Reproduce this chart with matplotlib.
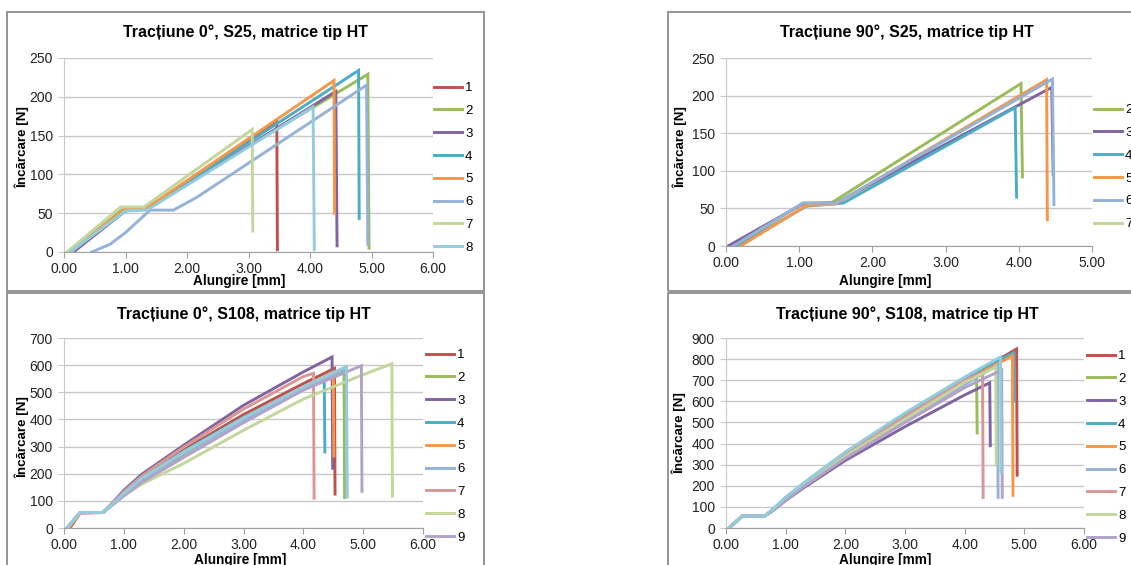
import matplotlib
matplotlib.use("Agg")
import matplotlib.pyplot as plt
from matplotlib.patches import Rectangle

plt.rcParams['font.family'] = ['Liberation Sans', 'DejaVu Sans']

W, H = 1131, 565

# ---- Tractiune 0, S25 ----
s25_0_labels = ['1', '2', '3', '4', '5', '6', '7', '8']
s25_0_x = [
    [0.15, 1.00, 1.35, 3.46, 3.47],
    [0.10, 0.97, 1.35, 4.94, 4.96],
    [0.15, 1.00, 1.35, 4.42, 4.44],
    [0.12, 1.00, 1.35, 4.79, 4.80],
    [0.10, 1.00, 1.35, 4.39, 4.40],
    [0.45, 0.75, 1.00, 1.40, 1.78, 2.15, 4.92, 4.94],
    [0.05, 0.92, 1.30, 3.06, 3.07],
    [0.10, 1.00, 1.35, 4.05, 4.07],
]
s25_0_y = [
    [0, 54, 56, 168, 3],
    [0, 56, 57, 229, 5],
    [0, 53, 55, 207, 8],
    [0, 55, 56, 234, 43],
    [0, 56, 57, 221, 50],
    [0, 10, 25, 54, 54, 70, 215, 10],
    [0, 58, 58, 158, 27],
    [0, 53, 54, 187, 3],
]

# ---- Tractiune 90, S25 ----
s25_90_labels = ['2', '3', '4', '5', '6', '7']
s25_90_x = [
    [0.12, 1.05, 1.45, 4.03, 4.05],
    [0.03, 1.05, 1.50, 4.45, 4.47],
    [0.15, 1.10, 1.60, 3.95, 3.97],
    [0.20, 1.10, 1.50, 4.38, 4.39],
    [0.10, 1.05, 1.50, 4.46, 4.48],
    [],
]
s25_90_y = [
    [0, 57, 58, 216, 92],
    [0, 56, 57, 211, 95],
    [0, 53, 57, 184, 65],
    [0, 54, 56, 221, 35],
    [0, 57, 57, 222, 55],
    [],
]

# ---- Tractiune 0, S108 ----
s108_0_labels = ['1', '2', '3', '4', '5', '6', '7', '8', '9', None]
s108_0_x = [
    [0.10, 0.27, 0.65, 0.8, 1.0, 1.3, 2.0, 3.0, 4.0, 4.52, 4.53],
    [0.05, 0.27, 0.65, 0.8, 1.0, 1.3, 2.0, 3.0, 4.0, 4.68, 4.69],
    [0.05, 0.27, 0.65, 0.8, 1.0, 1.3, 2.0, 3.0, 4.0, 4.48, 4.49],
    [0.05, 0.27, 0.65, 0.8, 1.0, 1.3, 2.0, 3.0, 4.0, 4.35, 4.36],
    [0.08, 0.27, 0.65, 0.8, 1.0, 1.3, 2.0, 3.0, 4.0, 4.50, 4.51],
    [0.05, 0.27, 0.65, 0.8, 1.0, 1.3, 2.0, 3.0, 4.0, 4.72, 4.73],
    [0.05, 0.27, 0.65, 0.8, 1.0, 1.3, 2.0, 3.0, 4.0, 4.17, 4.18],
    [0.05, 0.27, 0.65, 0.8, 1.0, 1.3, 2.0, 3.0, 4.0, 5.0, 5.48, 5.49],
    [0.05, 0.27, 0.65, 0.8, 1.0, 1.3, 2.0, 3.0, 4.0, 4.97, 4.98],
    [0.05, 0.27, 0.65, 0.8, 1.0, 1.3, 2.0, 3.0, 4.0, 4.72, 4.73],
]
s108_0_y = [
    [0, 55, 57, 86, 130, 185, 288, 418, 532, 588, 125],
    [0, 57, 57, 84, 120, 172, 272, 400, 512, 580, 112],
    [0, 57, 57, 90, 139, 198, 305, 452, 575, 630, 220],
    [0, 57, 57, 86, 126, 180, 282, 408, 515, 545, 280],
    [0, 56, 57, 84, 123, 176, 278, 405, 520, 575, 265],
    [0, 57, 57, 85, 123, 176, 275, 398, 510, 590, 115],
    [0, 57, 57, 88, 134, 192, 298, 438, 558, 570, 110],
    [0, 57, 57, 84, 118, 162, 238, 360, 475, 565, 605, 118],
    [0, 57, 57, 83, 119, 168, 260, 388, 508, 598, 135],
    [0, 57, 57, 86, 128, 183, 280, 405, 520, 595, 115],
]

# ---- Tractiune 90, S108 ----
s108_90_labels = ['1', '2', '3', '4', '5', '6', '7', '8', '9', None]
s108_90_x = [
    [0.05, 0.27, 0.65, 0.8, 1.0, 1.3, 2.0, 3.0, 4.0, 4.87, 4.88],
    [0.05, 0.27, 0.65, 0.8, 1.0, 1.3, 2.0, 3.0, 4.0, 4.20, 4.21],
    [0.05, 0.27, 0.65, 0.8, 1.0, 1.3, 2.0, 3.0, 4.0, 4.42, 4.43],
    [0.05, 0.27, 0.65, 0.8, 1.0, 1.3, 2.0, 3.0, 4.0, 4.82, 4.83],
    [0.05, 0.27, 0.65, 0.8, 1.0, 1.3, 2.0, 3.0, 4.0, 4.80, 4.81],
    [0.05, 0.27, 0.65, 0.8, 1.0, 1.3, 2.0, 3.0, 4.0, 4.55, 4.56],
    [0.05, 0.27, 0.65, 0.8, 1.0, 1.3, 2.0, 3.0, 4.0, 4.30, 4.31],
    [0.05, 0.27, 0.65, 0.8, 1.0, 1.3, 2.0, 3.0, 4.0, 4.52, 4.53],
    [0.05, 0.27, 0.65, 0.8, 1.0, 1.3, 2.0, 3.0, 4.0, 4.62, 4.63],
    [0.05, 0.27, 0.65, 0.8, 1.0, 1.3, 2.0, 3.0, 4.0, 4.60, 4.61],
]
s108_90_y = [
    [0, 55, 57, 90, 140, 205, 350, 530, 705, 848, 250],
    [0, 57, 57, 90, 140, 205, 352, 535, 685, 715, 450],
    [0, 55, 57, 85, 130, 190, 320, 480, 630, 688, 390],
    [0, 57, 57, 92, 145, 212, 358, 540, 712, 830, 600],
    [0, 56, 57, 88, 138, 202, 345, 525, 695, 815, 155],
    [0, 57, 57, 87, 135, 198, 335, 510, 680, 770, 145],
    [0, 57, 57, 88, 138, 202, 348, 528, 700, 738, 145],
    [0, 57, 57, 86, 135, 198, 340, 515, 690, 762, 300],
    [0, 57, 57, 85, 132, 195, 330, 500, 665, 748, 145],
    [0, 57, 57, 92, 145, 212, 360, 545, 715, 810, 265],
]

col_a = ['#C0504D', '#9BBB59', '#8064A2', '#4BACC6', '#F79646', '#95B3D7', '#C3D69B', '#93CDDD']
col_b = ['#9BBB59', '#8064A2', '#4BACC6', '#F79646', '#95B3D7', '#C3D69B']
col_c = ['#C0504D', '#9BBB59', '#8064A2', '#4BACC6', '#F79646', '#95B3D7', '#D99694', '#C3D69B', '#B3A2C7', '#93CDDD']


def rect(l, t, r, b):
    return [l / W, 1 - b / H, (r - l) / W, (b - t) / H]


fig = plt.figure(figsize=(W / 100, H / 100), dpi=100)

# chart borders
for l, t, r, b in [(7, 12, 484, 291), (668, 12, 1140, 291), (7, 293, 484, 575), (668, 293, 1140, 575)]:
    fig.add_artist(Rectangle((l / W, 1 - b / H), (r - l) / W, (b - t) / H, transform=fig.transFigure,
                             fill=False, ec='#8c8c8c', lw=1.3))


def panel(box, xs, ys, labels, colors, xmax, ymax, ystep, title, tpos, xlpos, ylpos, legpos):
    ax = fig.add_axes(rect(*box))
    for x, y, lab, c in zip(xs, ys, labels, colors):
        ax.plot(x, y, color=c, lw=2.1, label=lab if lab else '_nolegend_', solid_joinstyle='miter')
    ax.set_xlim(0, xmax)
    ax.set_ylim(0, ymax)
    ax.set_xticks(range(0, xmax + 1))
    ax.set_xticklabels(['%.2f' % v for v in range(0, xmax + 1)])
    ax.set_yticks(range(0, ymax + 1, ystep))
    ax.grid(axis='y', color='#c8c8c8', lw=1.0)
    ax.set_axisbelow(True)
    for s in ['top', 'right']:
        ax.spines[s].set_visible(False)
    ax.spines['left'].set_color('#c8c8c8')
    ax.spines['bottom'].set_color('#a0a0a0')
    ax.tick_params(axis='x', length=4, color='#a0a0a0', labelsize=10, pad=3, labelcolor='#222222')
    ax.tick_params(axis='y', length=4, color='#c8c8c8', labelsize=10, pad=4, labelcolor='#222222')
    fig.text(tpos[0] / W, 1 - tpos[1] / H, title, ha='center', va='center', fontsize=11.5, fontweight='bold')
    fig.text(xlpos[0] / W, 1 - xlpos[1] / H, 'Alungire [mm]', ha='center', va='center', fontsize=9.8,
             fontweight='bold')
    fig.text(ylpos[0] / W, 1 - ylpos[1] / H, 'Încărcare [N]', ha='center', va='center', fontsize=9.6,
             fontweight='bold', rotation=90)
    ax.legend(loc='upper left', bbox_to_anchor=(legpos[0] / W, 1 - legpos[1] / H),
              bbox_transform=fig.transFigure, frameon=False, fontsize=9.5, handlelength=2.1,
              handletextpad=0.25, borderpad=0, borderaxespad=0, labelspacing=0.8)
    return ax


panel((64, 58, 433, 252), s25_0_x, s25_0_y, s25_0_labels, col_a, 6, 250, 50,
      'Tracțiune 0°, S25, matrice tip HT', (245, 32), (239, 281), (22, 147), (434, 82))
panel((726, 58, 1092, 246), s25_90_x, s25_90_y, s25_90_labels, col_b, 5, 250, 50,
      'Tracțiune 90°, S25, matrice tip HT', (907, 32), (885, 281), (680, 147), (1094, 104))
panel((64, 338, 423, 528), s108_0_x, s108_0_y, s108_0_labels, col_c, 6, 700, 100,
      'Tracțiune 0°, S108, matrice tip HT', (244, 314), (240, 560), (22, 437), (426, 349))
panel((726, 338, 1084, 528), s108_90_x, s108_90_y, s108_90_labels, col_c, 6, 900, 100,
      'Tracțiune 90°, S108, matrice tip HT', (907, 314), (885, 560), (679, 433), (1087, 350))

fig.savefig('out.png', dpi=100)
